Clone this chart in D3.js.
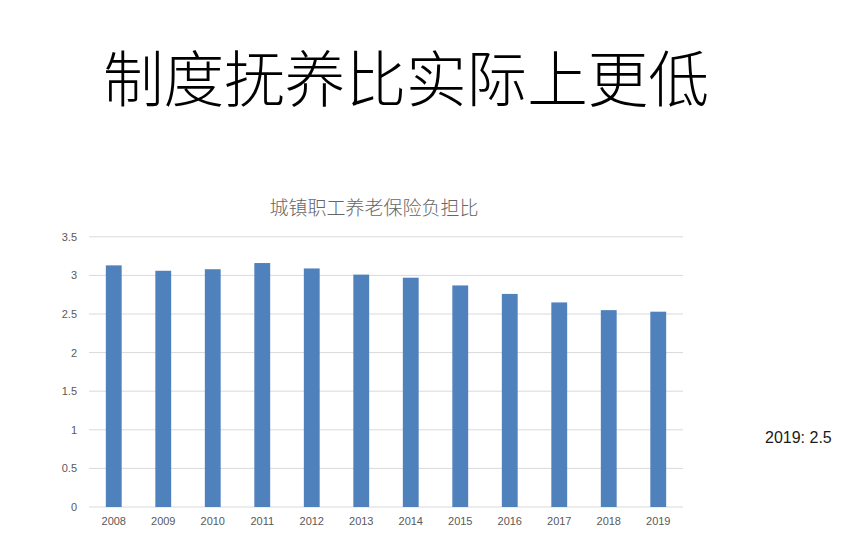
<!DOCTYPE html>
<html>
<head>
<meta charset="utf-8">
<script src="https://cdn.jsdelivr.net/npm/d3@7"></script>
<style>
  html, body { margin: 0; padding: 0; background: #fff; }
  svg { display: block; }
</style>
</head>
<body>
<svg id="chart" width="865" height="560"></svg>
<script>
const years = ["2008","2009","2010","2011","2012","2013","2014","2015","2016","2017","2018","2019"];
const ratios = [3.13, 3.06, 3.08, 3.16, 3.09, 3.01, 2.97, 2.87, 2.76, 2.65, 2.55, 2.53];
const yTicks = [0, 0.5, 1, 1.5, 2, 2.5, 3, 3.5];
const pageTitle = "制度抚养比实际上更低";
const chartTitle = "城镇职工养老保险负担比";
const note = "2019: 2.5";

(function () {
const svg = d3.select("#chart");
const cjk = "'Noto Sans CJK SC', 'Noto Sans', sans-serif";
const latin = "'Liberation Sans', Arial, sans-serif";

svg.append("text")
  .attr("x", 103).attr("y", 102)
  .attr("font-family", cjk).attr("font-size", 61).attr("font-weight", 300)
  .attr("fill", "#000")
  .attr("textLength", 606).attr("lengthAdjust", "spacingAndGlyphs")
  .text(pageTitle);

svg.append("text")
  .attr("x", 374).attr("y", 215)
  .attr("text-anchor", "middle")
  .attr("font-family", cjk).attr("font-size", 19).attr("font-weight", 300)
  .attr("fill", "#666666")
  .text(chartTitle);

const pLeft = 89, pRight = 683, pTop = 236.8, pBottom = 507;
const x = d3.scaleBand().domain(years).range([pLeft, pRight]).paddingInner(0.68).paddingOuter(0.34);
const y = d3.scaleLinear().domain([0, 3.5]).range([pBottom, pTop]);

const g = svg.append("g");
g.selectAll("line.grid").data(yTicks).enter().append("line")
  .attr("class", "grid")
  .attr("x1", pLeft).attr("x2", pRight)
  .attr("y1", d => y(d)).attr("y2", d => y(d))
  .attr("stroke", "#d9d9d9").attr("stroke-width", 1);

const yAxis = d3.axisLeft(y).tickValues(yTicks).tickSize(0).tickPadding(0).tickFormat(d3.format("~g"));
const ya = svg.append("g").attr("transform", `translate(${77},0)`).call(yAxis);
ya.select(".domain").remove();
ya.selectAll("text").attr("font-family", latin).attr("font-size", 11).attr("fill", "#595959");

g.selectAll("rect.bar").data(years).enter().append("rect")
  .attr("class", "bar")
  .attr("x", d => x(d))
  .attr("width", x.bandwidth())
  .attr("y", (d, i) => y(ratios[i]))
  .attr("height", (d, i) => y(0) - y(ratios[i]))
  .attr("fill", "#4f81bd");

const xAxis = d3.axisBottom(x).tickSize(0).tickPadding(0);
const xa = svg.append("g").attr("transform", `translate(0,${517})`).call(xAxis);
xa.select(".domain").remove();
xa.selectAll("text").attr("font-family", latin).attr("font-size", 11).attr("fill", "#595959");

svg.append("text")
  .attr("x", 765).attr("y", 443)
  .attr("font-family", latin).attr("font-size", 16)
  .attr("fill", "#1a1a1a")
  .text(note);
})();
</script>
</body>
</html>
